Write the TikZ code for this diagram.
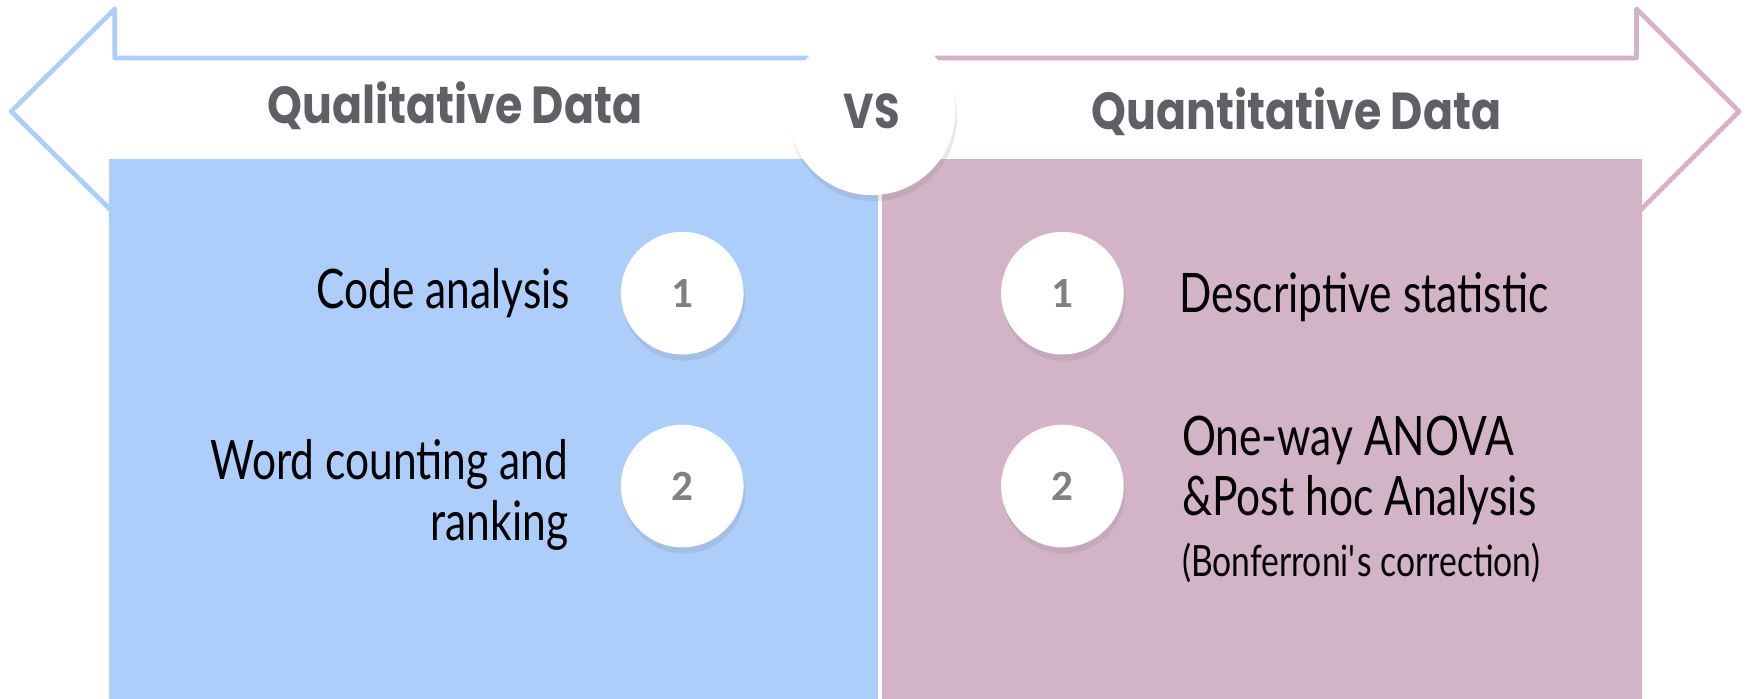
\documentclass[tikz,border=0pt]{standalone}
\usepackage{fontspec}
\setmainfont{Lato}[FakeStretch=0.78]
\newfontfamily\headfont{Poppins}[FakeStretch=0.85]
\newfontfamily\numfont{Carlito}
\usetikzlibrary{shadows}
\usetikzlibrary{positioning}

\definecolor{qualblue}{HTML}{ADCEFA}
\definecolor{quanpink}{HTML}{D3B3C7}
\definecolor{headgrey}{HTML}{5E6066}
\definecolor{numgrey}{HTML}{808080}

\tikzset{
  ball/.style={circle, fill=white, inner sep=0pt,
    drop shadow={opacity=0.18, shadow xshift=0.4pt, shadow yshift=-1.6pt}},
  numball/.style={ball, minimum size=11mm, text=numgrey,
    font=\numfont\bfseries\fontsize{11}{11}\selectfont},
  vsball/.style={ball, minimum size=15mm, text=headgrey,
    font=\headfont\bfseries\fontsize{12.5}{12.5}\selectfont},
  head/.style={text=headgrey, font=\headfont\bfseries\fontsize{13.3}{13.3}\selectfont},
  item/.style={text=black, inner sep=0pt, font=\fontsize{13.9}{15.4}\selectfont},
}

\begin{document}
\begin{tikzpicture}[x=0.1mm, y=-0.1mm, line join=round]
    \useasboundingbox (0,0) rectangle (1568,627);

    % arrow outlines
    \draw[qualblue, line width=1.2pt] (782,52) -- (103,52) -- (103,8) -- (10,100)
        -- (103,192) -- (103,148) -- (782,148);
    \draw[quanpink, line width=1.2pt] (782,52) -- (1468,52) -- (1468,8) -- (1560,100)
        -- (1468,192) -- (1468,148) -- (782,148);

    % panels
    \fill[qualblue] (98,143) rectangle (788,627);
    \fill[quanpink] (791,143) rectangle (1473,627);

    \node[head] (qual) at (408,95) {Qualitative Data};
    \node[head] (quan) at (1163,100) {Quantitative Data};
    \node[vsball] (vs) at (782,100) {VS};

    \node[numball] (lone) at (612,263) {1};
    \node[numball] (ltwo) at (612,436) {2};
    \node[numball] (rone) at (953,263) {1};
    \node[numball] (rtwo) at (953,436) {2};

    \node[item, left=4.4mm of lone] (lcode) {Code analysis};
    \node[item, align=right, left=4.6mm of ltwo, yshift=-0.8mm] (lword)
        {Word counting and\\ranking};
    \node[item, right=4.9mm of rone, yshift=-0.4mm] (rdesc) {Descriptive statistic};
    \node[item, align=left, right=5.1mm of rtwo, yshift=-1.2mm] (ranova)
        {One-way ANOVA\\\&Post hoc Analysis\\{\fontsize{11}{12}\selectfont (Bonferroni\textquotesingle s correction)}};

\end{tikzpicture}
\end{document}
